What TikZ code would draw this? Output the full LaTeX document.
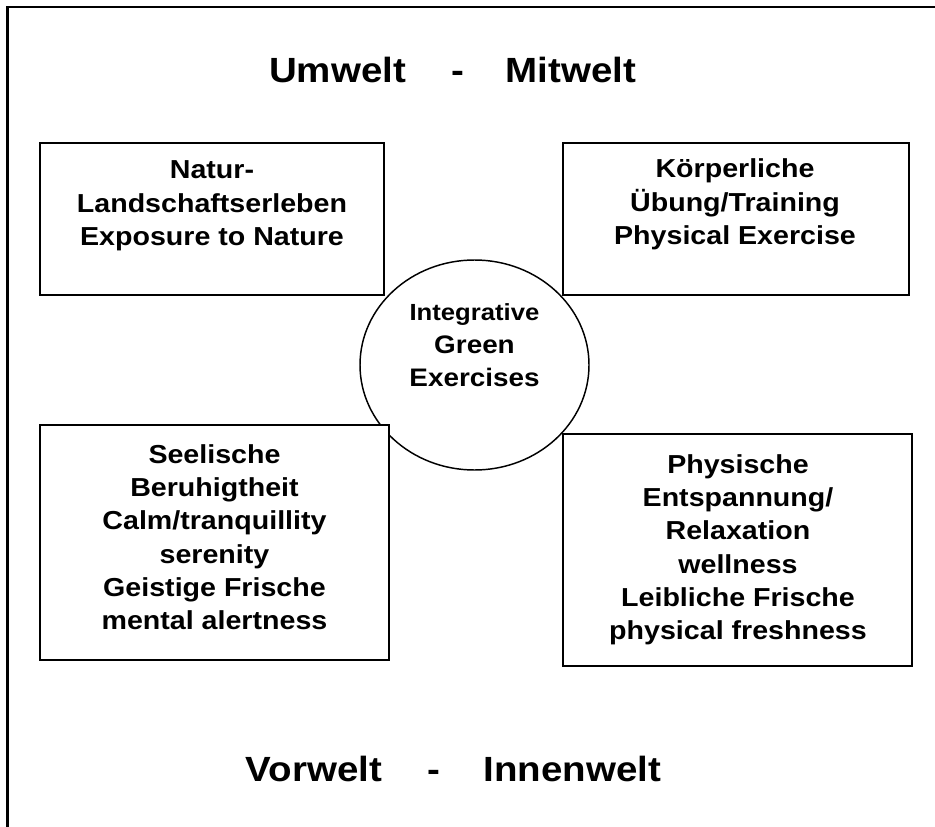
\documentclass[tikz,border=0pt]{standalone}
\usepackage{fontspec}
\setmainfont[FakeStretch=1.1]{Liberation Sans}
\usetikzlibrary{shapes.geometric}
\newcommand\mylines[1]{\begin{tabular}[t]{@{}c@{}}#1\end{tabular}}
\begin{document}
\begin{tikzpicture}[x=0.75pt,y=-0.75pt,
  frameline/.style={line width=1.8pt,line cap=rect},
  box/.style={rectangle,draw,line width=1.5pt,fill=white,inner sep=0pt},
  hub/.style={ellipse,draw,line width=1.1pt,fill=white,inner sep=0pt,
    minimum width=171.75pt,minimum height=157.5pt},
  boxtext/.style={anchor=base,inner sep=0pt,
    font=\bfseries\fontsize{19.5pt}{25pt}\selectfont},
  hubtext/.style={anchor=base,inner sep=0pt,
    font=\bfseries\fontsize{19pt}{24.75pt}\selectfont},
  title/.style={anchor=base,inner sep=0pt,
    font=\bfseries\fontsize{26.25pt}{30pt}\selectfont}]
\useasboundingbox (0,0) rectangle (935,827);
% outer frame
\coordinate (fbl) at (7.5,827);
\coordinate (ftl) at (7.5,7);
\coordinate (ftr) at (935,7);
\draw[frameline] (fbl) -- (ftl) -- (ftr);
% titles
\node[title] (u1) at (337.5,83) {Umwelt};
\node[title] (u2) at (457.5,83) {-};
\node[title] (u3) at (571,83) {Mitwelt};
\node[title] (v1) at (314,781) {Vorwelt};
\node[title] (v2) at (434,781) {-};
\node[title] (v3) at (572.5,781) {Innenwelt};
% central ellipse
\node[hub] (hub) at (474.5,365) {};
% boxes
\node[box,minimum width=258pt,minimum height=114pt] (tl) at (212,219) {};
\node[box,minimum width=259.5pt,minimum height=114pt] (tr) at (736,219) {};
\node[box,minimum width=261.75pt,minimum height=176.25pt] (bl) at (214.5,542.5) {};
\node[box,minimum width=261.75pt,minimum height=174pt] (br) at (737.5,550) {};
% texts
\node[boxtext] (tlt) at (212,179) {\mylines{Natur-\\Landschaftserleben\\Exposure to Nature}};
\node[boxtext] (trt) at (735,178) {\mylines{Körperliche\\Übung/Training\\Physical Exercise}};
\node[boxtext] (blt) at (214.5,463) {\mylines{Seelische\\Beruhigtheit\\Calm/tranquillity\\serenity\\Geistige Frische\\mental alertness}};
\node[boxtext] (brt) at (738,473) {\mylines{Physische\\Entspannung/\\Relaxation\\wellness\\Leibliche Frische\\physical freshness}};
\node[hubtext] (hubt) at (474.5,320.7) {\mylines{{\fontsize{17.5pt}{24.75pt}\selectfont Integrative}\\Green\\Exercises}};
\end{tikzpicture}
\end{document}
